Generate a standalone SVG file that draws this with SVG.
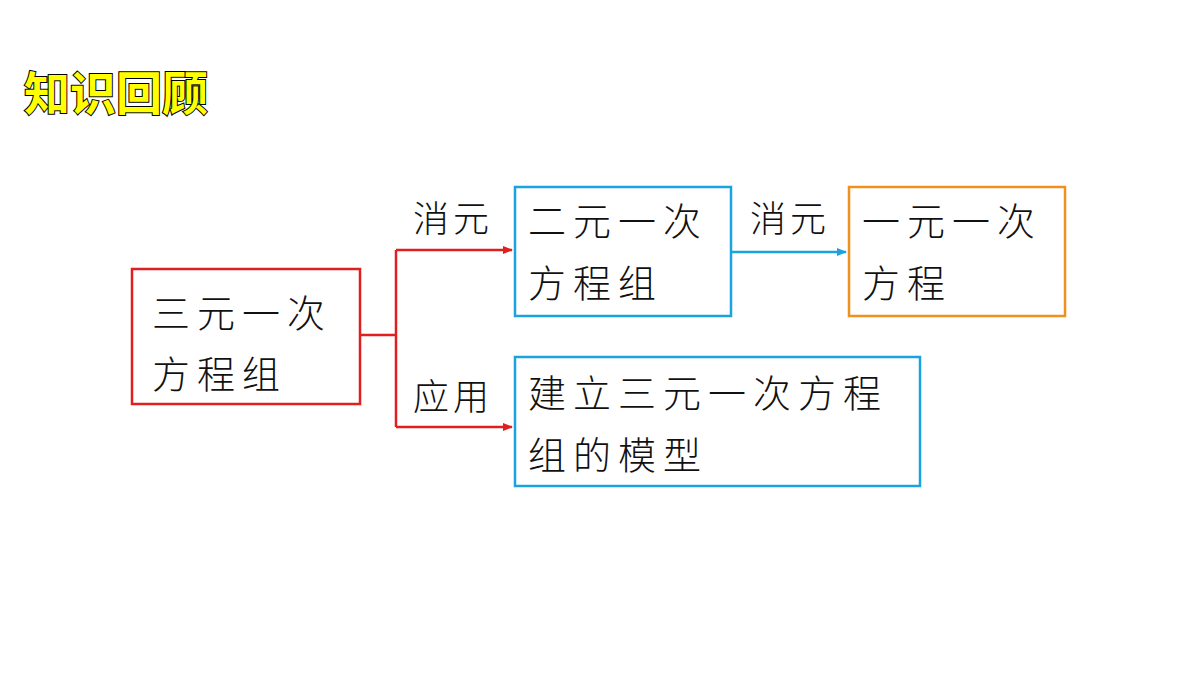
<svg xmlns="http://www.w3.org/2000/svg" width="1200" height="675" viewBox="0 0 1200 675">
<style>
.t{font-family:"Noto Sans CJK SC","Noto Sans",sans-serif;font-size:38px;fill:#111;letter-spacing:7px;font-weight:300}
.l{font-family:"Noto Sans CJK SC","Noto Sans",sans-serif;font-size:36px;fill:#111;letter-spacing:4px;font-weight:300}
.b{fill:#fff;stroke-width:2.5}
</style>
<defs>
<marker id="ar" markerWidth="10" markerHeight="10" refX="9" refY="5" orient="auto" markerUnits="userSpaceOnUse"><path d="M0,1 L10,5 L0,9 Z" fill="#e02020"/></marker>
<marker id="ab" markerWidth="10" markerHeight="10" refX="9" refY="5" orient="auto" markerUnits="userSpaceOnUse"><path d="M0,1 L10,5 L0,9 Z" fill="#1aa3e0"/></marker>
</defs>
<rect width="1200" height="675" fill="#fff"/>
<text x="24" y="110" font-family="Noto Sans CJK SC,sans-serif" font-size="46" font-weight="bold" fill="#ffff00" stroke="#000" stroke-width="2" paint-order="stroke">知识回顾</text>
<g id="connectors" fill="none" stroke-width="2.5">
<path d="M360,335 H396 M396,250 V427" stroke="#e02020"/>
<path d="M396,250 H512" stroke="#e02020" marker-end="url(#ar)"/>
<path d="M396,427 H512" stroke="#e02020" marker-end="url(#ar)"/>
<path d="M731,252 H846" stroke="#1aa3e0" marker-end="url(#ab)"/>
<text x="413" y="232" class="l" stroke="none">消元</text>
<text x="413" y="410" class="l" stroke="none">应用</text>
<text x="750" y="232" class="l" stroke="none">消元</text>
</g>
<g id="n1"><rect x="132" y="269" width="228" height="135" class="b" stroke="#e02020"/><text class="t" x="152" y="327">三元一次</text><text class="t" x="152" y="388">方程组</text></g>
<g id="n2"><rect x="515" y="187" width="216" height="129" class="b" stroke="#1aa3e0"/><text class="t" x="528" y="235">二元一次</text><text class="t" x="528" y="297">方程组</text></g>
<g id="n3"><rect x="849" y="187" width="216" height="129" class="b" stroke="#f0901e"/><text class="t" x="862" y="235">一元一次</text><text class="t" x="862" y="297">方程</text></g>
<g id="n4"><rect x="515" y="357" width="405" height="129" class="b" stroke="#1aa3e0"/><text class="t" x="528" y="407">建立三元一次方程</text><text class="t" x="528" y="469">组的模型</text></g>
</svg>
